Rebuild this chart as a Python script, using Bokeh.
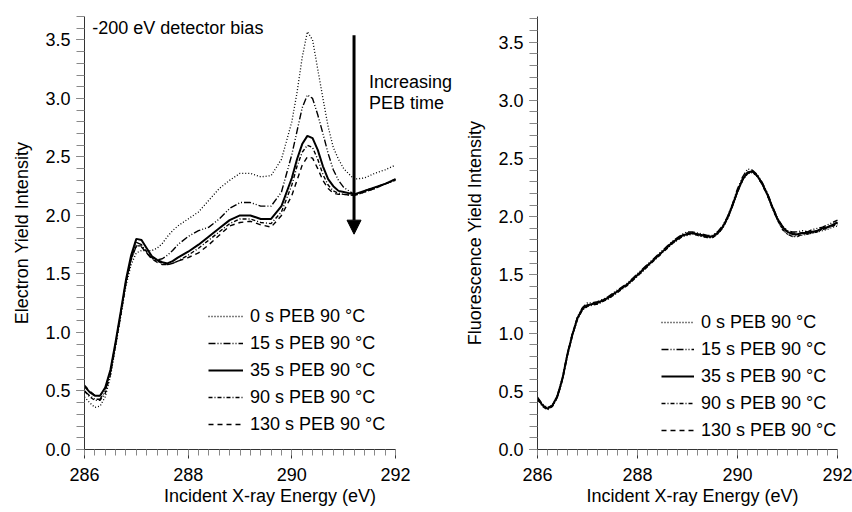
from bokeh.plotting import figure
from bokeh.layouts import row
from bokeh.models import (Range1d, SingleIntervalTicker, PrintfTickFormatter, Legend,
                          LegendItem, Label, Arrow, NormalHead)
from bokeh.embed import file_html
from bokeh.resources import INLINE

# ---------------- data: electron yield (left) ----------------
energy_ey = [286.0, 286.1, 286.2, 286.3, 286.4, 286.5, 286.6, 286.7, 286.8, 286.9,
             287.0, 287.1, 287.2, 287.3, 287.4, 287.5, 287.6, 287.7, 287.8, 288.0,
             288.2, 288.4, 288.6, 288.8, 289.0, 289.2, 289.4, 289.6, 289.8, 290.0,
             290.1, 290.2, 290.3, 290.4, 290.5, 290.6, 290.7, 290.8, 290.9, 291.0,
             291.2, 291.4, 291.6, 291.8, 292.0]

ey_0s = [0.45, 0.40, 0.36, 0.37, 0.45, 0.62, 0.88, 1.14, 1.40, 1.58,
         1.68, 1.70, 1.70, 1.70, 1.72, 1.76, 1.82, 1.87, 1.91, 1.97,
         2.03, 2.13, 2.23, 2.30, 2.36, 2.36, 2.33, 2.34, 2.48, 2.80,
         3.05, 3.35, 3.57, 3.50, 3.25, 3.00, 2.76, 2.58, 2.48, 2.40,
         2.31, 2.32, 2.36, 2.39, 2.43]
ey_15s = [0.50, 0.46, 0.43, 0.43, 0.50, 0.66, 0.90, 1.16, 1.43, 1.63,
          1.77, 1.75, 1.68, 1.63, 1.62, 1.63, 1.66, 1.70, 1.75, 1.82,
          1.87, 1.90, 1.97, 2.06, 2.11, 2.11, 2.08, 2.08, 2.20, 2.52,
          2.72, 2.92, 3.03, 3.00, 2.86, 2.70, 2.53, 2.39, 2.30, 2.24,
          2.18, 2.21, 2.24, 2.27, 2.31]
ey_35s = [0.54, 0.49, 0.46, 0.46, 0.53, 0.68, 0.92, 1.18, 1.45, 1.66,
          1.80, 1.79, 1.72, 1.65, 1.62, 1.60, 1.59, 1.61, 1.64, 1.69,
          1.75, 1.82, 1.89, 1.96, 2.00, 2.00, 1.97, 1.97, 2.08, 2.32,
          2.48, 2.61, 2.68, 2.66, 2.56, 2.42, 2.31, 2.25, 2.21, 2.20,
          2.18, 2.21, 2.24, 2.27, 2.31]
ey_90s = [0.50, 0.45, 0.42, 0.42, 0.48, 0.64, 0.89, 1.15, 1.42, 1.62,
          1.74, 1.74, 1.69, 1.64, 1.61, 1.59, 1.58, 1.59, 1.61, 1.66,
          1.72, 1.79, 1.86, 1.93, 1.97, 1.97, 1.94, 1.93, 2.03, 2.26,
          2.42, 2.54, 2.60, 2.58, 2.48, 2.35, 2.26, 2.21, 2.19, 2.18,
          2.17, 2.20, 2.23, 2.27, 2.30]
ey_130s = [0.55, 0.50, 0.46, 0.46, 0.52, 0.67, 0.91, 1.17, 1.44, 1.63,
           1.74, 1.73, 1.68, 1.63, 1.60, 1.58, 1.58, 1.59, 1.61, 1.64,
           1.68, 1.75, 1.83, 1.91, 1.94, 1.95, 1.92, 1.90, 2.00, 2.17,
           2.30, 2.43, 2.50, 2.49, 2.40, 2.30, 2.23, 2.19, 2.18, 2.18,
           2.17, 2.20, 2.23, 2.27, 2.30]

# ---------------- data: fluorescence yield (right) ----------------
energy_fy = [286.0, 286.1, 286.2, 286.3, 286.4, 286.5, 286.6, 286.7, 286.8, 286.9,
             287.0, 287.1, 287.2, 287.3, 287.4, 287.5, 287.6, 287.7, 287.8, 287.9,
             288.0, 288.1, 288.2, 288.3, 288.4, 288.5, 288.6, 288.7, 288.8, 288.9,
             289.0, 289.1, 289.2, 289.3, 289.4, 289.5, 289.6, 289.7, 289.8, 289.9,
             290.0, 290.1, 290.2, 290.3, 290.4, 290.5, 290.6, 290.7, 290.8, 290.9,
             291.0, 291.1, 291.2, 291.3, 291.4, 291.5, 291.6, 291.7, 291.8, 291.9,
             292.0]

fy_0s = [0.44, 0.38, 0.35, 0.37, 0.45, 0.60, 0.81, 0.99, 1.12, 1.20,
         1.23, 1.25, 1.25, 1.27, 1.29, 1.32, 1.35, 1.39, 1.42, 1.46,
         1.49, 1.53, 1.58, 1.62, 1.66, 1.70, 1.73, 1.77, 1.80, 1.83,
         1.84, 1.85, 1.84, 1.83, 1.82, 1.82, 1.85, 1.90, 1.98, 2.09,
         2.21, 2.31, 2.37, 2.38, 2.34, 2.27, 2.18, 2.07, 1.97, 1.89,
         1.85, 1.83, 1.84, 1.84, 1.85, 1.86, 1.87, 1.88, 1.89, 1.91,
         1.92]
fy_15s = [0.45, 0.39, 0.36, 0.38, 0.47, 0.62, 0.83, 1.00, 1.14, 1.22,
          1.26, 1.26, 1.27, 1.29, 1.31, 1.34, 1.37, 1.40, 1.43, 1.47,
          1.51, 1.55, 1.59, 1.63, 1.67, 1.71, 1.75, 1.79, 1.82, 1.85,
          1.87, 1.87, 1.86, 1.85, 1.84, 1.84, 1.87, 1.92, 2.00, 2.11,
          2.24, 2.34, 2.41, 2.40, 2.36, 2.29, 2.20, 2.09, 1.99, 1.92,
          1.88, 1.87, 1.87, 1.88, 1.87, 1.89, 1.90, 1.91, 1.93, 1.95,
          1.97]
fy_35s = [0.44, 0.38, 0.35, 0.38, 0.46, 0.61, 0.82, 0.99, 1.13, 1.21,
          1.24, 1.25, 1.26, 1.28, 1.30, 1.33, 1.36, 1.39, 1.42, 1.46,
          1.50, 1.54, 1.58, 1.62, 1.66, 1.70, 1.74, 1.78, 1.81, 1.84,
          1.85, 1.86, 1.85, 1.84, 1.83, 1.83, 1.86, 1.91, 1.99, 2.10,
          2.22, 2.32, 2.38, 2.39, 2.35, 2.28, 2.19, 2.08, 1.98, 1.91,
          1.87, 1.85, 1.85, 1.86, 1.86, 1.87, 1.88, 1.90, 1.91, 1.93,
          1.95]
fy_90s = [0.43, 0.37, 0.34, 0.37, 0.45, 0.60, 0.81, 0.98, 1.12, 1.20,
          1.23, 1.24, 1.25, 1.27, 1.29, 1.32, 1.35, 1.38, 1.41, 1.45,
          1.49, 1.53, 1.57, 1.61, 1.65, 1.69, 1.73, 1.77, 1.80, 1.83,
          1.85, 1.86, 1.84, 1.83, 1.82, 1.82, 1.85, 1.90, 1.98, 2.09,
          2.21, 2.31, 2.37, 2.38, 2.35, 2.27, 2.18, 2.07, 1.97, 1.89,
          1.85, 1.83, 1.83, 1.85, 1.85, 1.86, 1.87, 1.89, 1.90, 1.92,
          1.93]
fy_130s = [0.44, 0.38, 0.35, 0.38, 0.46, 0.61, 0.82, 1.00, 1.13, 1.21,
           1.24, 1.25, 1.26, 1.28, 1.30, 1.33, 1.36, 1.39, 1.42, 1.46,
           1.50, 1.54, 1.58, 1.62, 1.66, 1.70, 1.74, 1.78, 1.81, 1.84,
           1.86, 1.86, 1.85, 1.84, 1.83, 1.83, 1.86, 1.91, 1.99, 2.10,
           2.22, 2.32, 2.38, 2.39, 2.35, 2.28, 2.19, 2.08, 1.98, 1.91,
           1.87, 1.86, 1.86, 1.86, 1.87, 1.87, 1.88, 1.90, 1.91, 1.93,
           1.95]

labels = ["0 s PEB 90 °C", "15 s PEB 90 °C", "35 s PEB 90 °C",
          "90 s PEB 90 °C", "130 s PEB 90 °C"]
x_ticks_interval = 2
y_ticks_interval = 0.5

FONT = "Liberation Sans"
FS = "18px"
styles = [dict(line_dash="1 2", line_width=1.3),
          dict(line_dash="7 2 1 2 1 2", line_width=1.4),
          dict(line_dash="solid", line_width=2.0),
          dict(line_dash="4 2 1 2", line_width=1.4),
          dict(line_dash="5 4", line_width=1.4)]


def make_fig(width, left, right, top, bottom, xmax, ymax, ylabel):
    p = figure(width=width, height=512, output_backend="svg", toolbar_location=None,
               x_range=Range1d(286, xmax), y_range=Range1d(0, ymax),
               min_border_left=left, min_border_right=right,
               min_border_top=top, min_border_bottom=bottom)
    p.outline_line_color = None
    p.xgrid.visible = False
    p.ygrid.visible = False
    p.background_fill_color = "white"
    p.border_fill_color = "white"
    p.xaxis.ticker = SingleIntervalTicker(interval=x_ticks_interval, num_minor_ticks=10)
    p.yaxis.ticker = SingleIntervalTicker(interval=y_ticks_interval, num_minor_ticks=5)
    p.yaxis.formatter = PrintfTickFormatter(format="%.1f")
    p.xaxis.formatter = PrintfTickFormatter(format="%d")
    p.xaxis.bounds = (286, 292)
    for ax in (p.xaxis[0], p.yaxis[0]):
        ax.axis_line_color = "#333333"
        ax.major_tick_line_color = "#333333"
        ax.minor_tick_line_color = "#888888"
        ax.major_tick_in = 0
        ax.minor_tick_in = 0
        ax.major_label_text_font = FONT
        ax.major_label_text_font_size = FS
        ax.major_label_text_color = "black"
        ax.axis_label_text_font = FONT
        ax.axis_label_text_font_size = FS
        ax.axis_label_text_font_style = "normal"
        ax.axis_label_text_color = "black"
    p.xaxis.major_tick_out = 9
    p.xaxis.minor_tick_out = 6
    p.yaxis.major_tick_out = 8
    p.yaxis.minor_tick_out = 8
    p.xaxis.major_label_standoff = 9
    p.yaxis.major_label_standoff = 6
    p.xaxis.axis_label = "Incident X-ray Energy (eV)"
    p.xaxis.axis_label_standoff = 2
    p.yaxis.axis_label = ylabel
    p.yaxis.axis_label_standoff = 10
    return p


def add_series(p, xs, series, loc, gw):
    items = []
    for ys, lab, st in zip(series, labels, styles):
        r = p.line(xs, ys, line_color="black", **st)
        items.append(LegendItem(label=lab, renderers=[r]))
    leg = Legend(items=items, location=loc, padding=0, margin=0,
                 border_line_alpha=0, background_fill_alpha=0,
                 label_text_font=FONT, label_text_font_size=FS,
                 label_text_color="black",
                 glyph_width=gw, glyph_height=24, label_height=24,
                 label_standoff=7, spacing=3)
    p.add_layout(leg, "center")


# left figure: frame spans 84..455 px, 286..292 occupies 311 px
p1 = make_fig(460, 84, 5, 16, 62, 286 + 6 * 371 / 311, 3.7, "Electron Yield Intensity")
add_series(p1, energy_ey, [ey_0s, ey_15s, ey_35s, ey_90s, ey_130s], (124, 13), 35)
p1.add_layout(Label(x=286.15, y=3.60, text="-200 eV detector bias", text_font=FONT,
                    text_font_size=FS, text_baseline="middle", text_color="black"))
p1.add_layout(Label(x=291.49, y=3.14, text="Increasing", text_font=FONT,
                    text_font_size=FS, text_baseline="middle", text_color="black"))
p1.add_layout(Label(x=291.49, y=2.96, text="PEB time", text_font=FONT,
                    text_font_size=FS, text_baseline="middle", text_color="black"))
p1.add_layout(Arrow(end=NormalHead(size=14, fill_color="black", line_color="black"),
                    x_start=291.2, y_start=3.54, x_end=291.2, y_end=1.84,
                    line_width=3, line_color="black"))

# right figure: frame spans 537..847 px, 286..292 occupies 300 px
p2 = make_fig(392, 77, 5, 12, 63, 286 + 6 * 310 / 300, 3.72, "Fluorescence Yield Intensity")
add_series(p2, energy_fy, [fy_0s, fy_15s, fy_35s, fy_90s, fy_130s], (124, 7), 33)

layout = row(p1, p2)
open("out.html", "w").write(file_html(layout, INLINE))
